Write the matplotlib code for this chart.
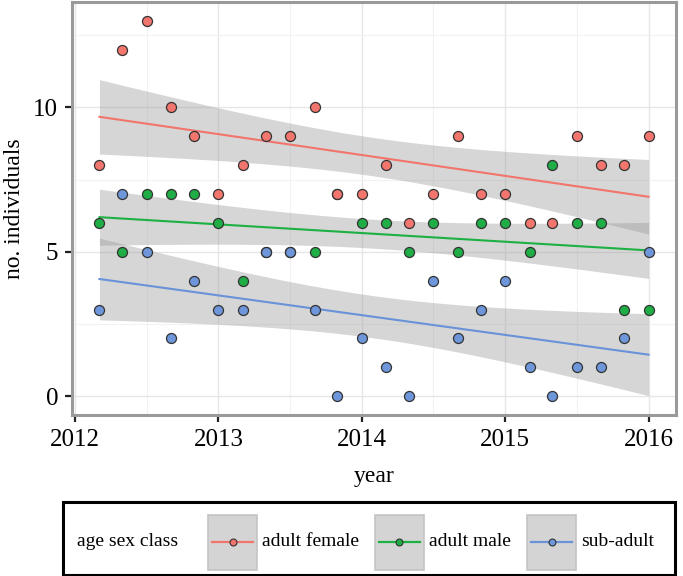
import matplotlib
matplotlib.use('Agg')
import matplotlib.pyplot as plt
import numpy as np
from matplotlib.lines import Line2D
from matplotlib.patches import Rectangle

plt.rcParams['font.family'] = ['Liberation Serif', 'DejaVu Serif']

# survey dates (decimal years, every two months)
years = [2012.17, 2012.33, 2012.5, 2012.67, 2012.83, 2013.0,
         2013.17, 2013.33, 2013.5, 2013.67, 2013.83, 2014.0,
         2014.17, 2014.33, 2014.5, 2014.67, 2014.83, 2015.0,
         2015.17, 2015.33, 2015.5, 2015.67, 2015.83, 2016.0]

adult_female = [8, 12, 13, 10, 9, 7, 8, 9, 9, 10, 7, 7,
                8, 6, 7, 9, 7, 7, 6, 6, 9, 8, 8, 9]
adult_male = [6, 5, 7, 7, 7, 6, 4, 5, 5, 5, 7, 6,
              6, 5, 6, 5, 6, 6, 5, 8, 6, 6, 3, 3]
sub_adult = [3, 7, 5, 2, 4, 3, 3, 5, 5, 3, 0, 2,
             1, 0, 4, 2, 3, 4, 1, 0, 1, 1, 2, 5]

labels = ['adult female', 'adult male', 'sub-adult']
series = [adult_female, adult_male, sub_adult]
point_cols = ['#F3766E', '#1FAD45', '#6E96DA']
line_cols = ['#F2756C', '#1DB043', '#6A92D8']
point_order = [1, 0, 2]  # male under female, sub-adult on top

x_ticks = [2012, 2013, 2014, 2015, 2016]
y_ticks = [0, 5, 10]

W, H = 683, 576
fig = plt.figure(figsize=(W / 100, H / 100), dpi=100)
ax = fig.add_axes([72 / W, 1 - 415 / H, 604 / W, 413 / H])

x = np.array(years)
xs = np.linspace(x.min(), x.max(), 80)
t_crit = 2.074  # t(0.975, df=22)

# smooth bands first, then lines, then points
fits = []
for vals in series:
    y = np.array(vals, dtype=float)
    b, a = np.polyfit(x, y, 1)
    resid = y - (a + b * x)
    s = np.sqrt(np.sum(resid ** 2) / (len(x) - 2))
    sxx = np.sum((x - x.mean()) ** 2)
    se = s * np.sqrt(1 / len(x) + (xs - x.mean()) ** 2 / sxx)
    fit = a + b * xs
    fits.append(fit)
    ax.fill_between(xs, fit - t_crit * se, fit + t_crit * se,
                    color='#999999', alpha=0.4, linewidth=0, zorder=2)

for fit, lc in zip(fits, line_cols):
    ax.plot(xs, fit, color=lc, lw=1.5, zorder=3)

for i in point_order:
    ax.scatter(years, series[i], s=52, facecolor=point_cols[i],
               edgecolor='#333333', linewidth=0.9, zorder=4)

# expanded limits like ggplot
xr = x.max() - x.min()
ax.set_xlim(x.min() - 0.05 * xr, x.max() + 0.05 * xr)
ymax = max(max(v) for v in series)
ax.set_ylim(-0.05 * ymax, ymax * 1.05)

ax.set_xticks(x_ticks)
ax.set_yticks(y_ticks)
ax.set_xticks([2012.5, 2013.5, 2014.5, 2015.5], minor=True)
ax.set_yticks([2.5, 7.5, 12.5], minor=True)
ax.grid(True, which='major', color='#e6e6e6', lw=1.0, zorder=0)
ax.grid(True, which='minor', color='#f2f2f2', lw=0.8, zorder=0)
ax.set_axisbelow(True)
ax.tick_params(which='major', length=5, width=1.6, color='#222222',
               labelsize=18, pad=5)
ax.tick_params(which='minor', length=0)
for sp in ax.spines.values():
    sp.set_color('#9a9a9a')
    sp.set_linewidth(2.2)

ax.set_xlabel('year', fontsize=17, labelpad=11)
ax.set_ylabel('no. individuals', fontsize=17, labelpad=6)


def fx(px):
    return px / W


def fy(py):
    return 1 - py / H


# legend box along the bottom, drawn by hand
fig.patches.append(Rectangle((fx(63), fy(575)), 612 / W, 73 / H,
                             transform=fig.transFigure, fill=False,
                             edgecolor='black', linewidth=2.2))
fig.text(fx(77), fy(542), 'age sex class', fontsize=14,
         va='center', ha='left')

key_left = [208, 375, 527]
key_w, key_h = 49, 55
yc = 542
for k, lab in enumerate(labels):
    x0 = key_left[k]
    fig.patches.append(Rectangle((fx(x0), fy(yc + key_h / 2)), key_w / W,
                                 key_h / H, transform=fig.transFigure,
                                 facecolor='#d4d4d4', edgecolor='#c4c4c4',
                                 linewidth=1.2))
    fig.lines.append(Line2D([fx(x0 + 4), fx(x0 + key_w - 4)], [fy(yc), fy(yc)],
                            transform=fig.transFigure, color=line_cols[k],
                            lw=1.6))
    fig.lines.append(Line2D([fx(x0 + key_w / 2)], [fy(yc)],
                            transform=fig.transFigure, linestyle='none',
                            marker='o', markersize=5,
                            markerfacecolor=point_cols[k],
                            markeredgecolor='#333333', markeredgewidth=0.8))
    fig.text(fx(x0 + key_w + 5), fy(yc), lab, fontsize=14,
             va='center', ha='left')

fig.savefig('out.png', dpi=100)
